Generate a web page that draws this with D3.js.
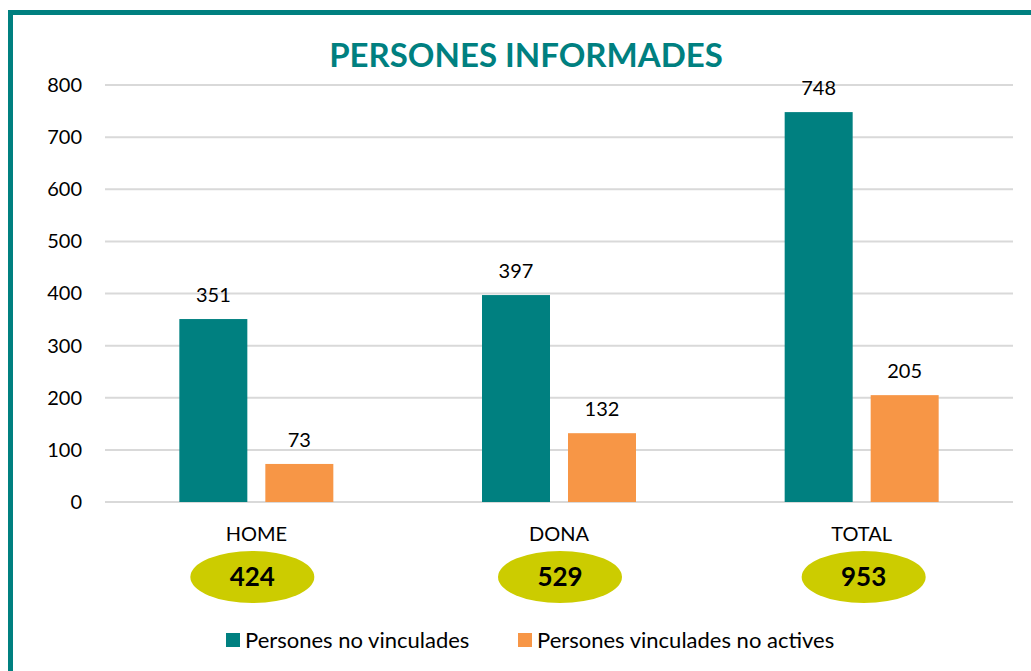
<!DOCTYPE html>
<html>
<head>
<meta charset="utf-8">
<script src="https://cdn.jsdelivr.net/npm/d3@7"></script>
<style>
  body { margin: 0; background: #fff; }
  svg { display: block; font-family: Lato, "Open Sans", sans-serif; }
</style>
</head>
<body>
<div id="chart"></div>
<script>
// chart data
const categories = ["HOME", "DONA", "TOTAL"]
const seriesNames = ["Persones no vinculades", "Persones vinculades no actives"]
const noVinculades = [351, 397, 748]
const vinculadesNoActives = [73, 132, 205]
const totals = [424, 529, 953]
const yTicks = [0, 100, 200, 300, 400, 500, 600, 700, 800]

const colors = ["#008080", "#F79646"]

var width = 1031, height = 671
var margin = {top: 85, right: 18, bottom: 169, left: 105}

var svg = d3.select("#chart")
    .append("svg")
    .attr("width", width)
    .attr("height", height)

// outer frame (runs past the right/bottom edges)
svg.append("rect")
    .attr("x", 10.5).attr("y", 12.5)
    .attr("width", 1040).attr("height", 700)
    .attr("fill", "none")
    .attr("stroke", "#008080")
    .attr("stroke-width", 5)

var g = svg.append("g")
    .attr("transform", "translate(" + margin.left + "," + margin.top + ")")

var innerW = width - margin.left - margin.right
var innerH = height - margin.top - margin.bottom

var x = d3.scaleBand()
    .domain(categories)
    .range([0, innerW])

var y = d3.scaleLinear()
    .domain([0, 800])
    .range([innerH, 0])

// gridlines
g.selectAll(".grid")
    .data(yTicks)
    .enter()
    .append("line")
    .attr("x1", 0)
    .attr("x2", innerW)
    .attr("y1", d => y(d))
    .attr("y2", d => y(d))
    .attr("stroke", "#d9d9d9")
    .attr("stroke-width", 2)

// y axis labels
var yAxis = g.append("g")
    .call(d3.axisLeft(y).tickValues(yTicks).tickSize(0).tickPadding(23))
yAxis.select(".domain").remove()
yAxis.selectAll("text")
    .style("font-size", "20px")
    .style("font-family", "Lato, 'Open Sans', sans-serif")
    .attr("fill", "#000")

// bars
var barW = 68, gap = 18
var x1 = d3.scaleOrdinal()
    .domain([0, 1])
    .range([-(gap / 2 + barW), gap / 2])

const rows = categories.map((c, i) => ({cat: c, vals: [noVinculades[i], vinculadesNoActives[i]]}))

var groups = g.selectAll(".cat")
    .data(rows)
    .enter()
    .append("g")
    .attr("transform", d => "translate(" + (x(d.cat) + x.bandwidth() / 2) + ",0)")

groups.selectAll("rect")
    .data(d => d.vals)
    .enter()
    .append("rect")
    .attr("x", (d, i) => x1(i))
    .attr("y", d => y(d))
    .attr("width", barW)
    .attr("height", d => y(0) - y(d))
    .attr("fill", (d, i) => colors[i])

groups.selectAll(".val")
    .data(d => d.vals)
    .enter()
    .append("text")
    .attr("x", (d, i) => x1(i) + barW / 2)
    .attr("y", d => y(d) - 17)
    .attr("text-anchor", "middle")
    .style("font-size", "20px")
    .text(d => d)

// category labels
groups.append("text")
    .attr("x", 0)
    .attr("y", innerH + 39)
    .attr("text-anchor", "middle")
    .style("font-size", "20px")
    .text(d => d.cat)

// total ellipses (slightly hand-placed, like the original)
var ellipseShift = [-4, 1, 2]
groups.append("ellipse")
    .attr("cx", (d, i) => ellipseShift[i])
    .attr("cy", innerH + 75)
    .attr("rx", 62)
    .attr("ry", 26)
    .attr("fill", "#CCCC00")

groups.append("text")
    .attr("x", (d, i) => ellipseShift[i])
    .attr("y", innerH + 84)
    .attr("text-anchor", "middle")
    .style("font-size", "26px")
    .style("font-weight", "bold")
    .text((d, i) => totals[i])

// title
svg.append("text")
    .attr("x", 526)
    .attr("y", 67)
    .attr("text-anchor", "middle")
    .style("font-size", "33px")
    .style("font-weight", "bold")
    .attr("fill", "#008080")
    .text("PERSONES INFORMADES")

// legend
var legendX = [226, 518]
var legend = svg.selectAll(".legend")
    .data(seriesNames)
    .enter()
    .append("g")
    .attr("transform", (d, i) => "translate(" + legendX[i] + ",633)")

legend.append("rect")
    .attr("width", 14)
    .attr("height", 14)
    .attr("fill", (d, i) => colors[i])

legend.append("text")
    .attr("x", 19)
    .attr("y", 15)
    .style("font-size", "22px")
    .text(d => d)
</script>
</body>
</html>
